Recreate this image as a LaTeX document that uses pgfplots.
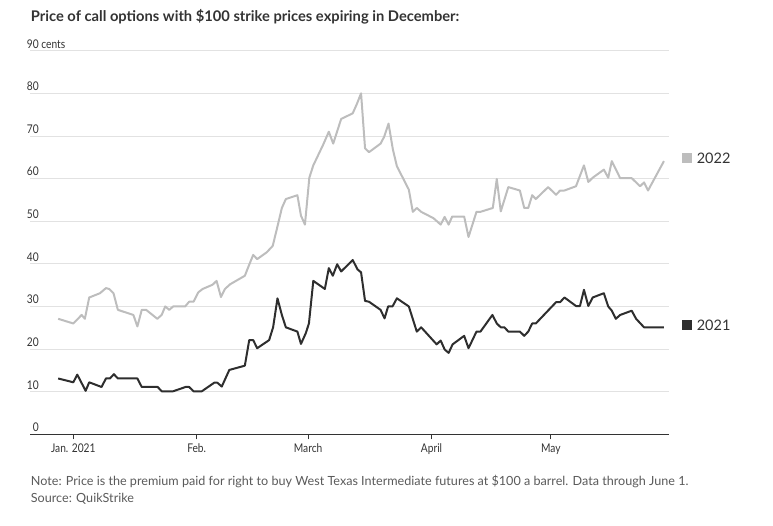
\documentclass[border=0pt]{standalone}
\usepackage{pgfplots}
\pgfplotsset{compat=1.18}
\usepackage{fontspec}
\setmainfont{Lato}
\newfontfamily\narrowfont[FakeStretch=0.85]{Lato}
\definecolor{cA}{HTML}{BDBDBD}
\definecolor{cB}{HTML}{2E2E2E}
\definecolor{gridc}{HTML}{E2E2E2}
\definecolor{txt}{HTML}{333333}
\definecolor{notec}{HTML}{5A5A5A}

\pgfplotstableread{
x y
-3.8 27.1
0 26.0
2.1 28.0
2.9 27.1
4.0 32.1
6.7 33.1
8.2 34.3
9.0 34.1
10.1 33.1
11.2 29.2
15.1 28.0
16.1 25.3
17.2 29.2
18.3 29.2
21.1 27.1
22.2 28.0
23.1 30.0
24.1 29.2
25.1 30.0
28.1 30.0
29.1 31.1
30.2 31.1
31.4 33.3
32.5 34.1
35.0 35.1
36.0 36.0
37.1 32.2
38.1 34.1
39.4 35.2
43.1 37.2
44.2 39.8
45.2 42.1
46.2 41.1
48.6 42.7
50.1 44.2
51.1 48.0
52.4 53.1
53.4 55.2
56.3 56.1
57.2 51.3
58.2 49.2
59.3 60.2
60.3 63.1
62.8 68.0
64.2 71.0
65.3 68.2
67.3 74.0
70.2 75.3
71.2 77.4
72.3 80.0
73.3 67.1
74.3 66.2
77.2 68.2
78.1 69.8
79.2 72.9
80.3 66.8
81.3 62.9
84.3 57.4
85.3 52.2
86.3 53.1
87.4 52.2
90.5 50.7
92.3 49.2
93.3 51.0
94.3 49.2
95.2 51.1
98.2 51.1
99.3 46.3
101.3 52.2
102.3 52.2
105.4 53.1
106.4 59.9
107.4 52.3
109.3 58.0
112.2 57.2
113.3 53.1
114.3 53.1
115.3 56.1
116.2 55.2
119.3 58.0
121.3 56.2
122.3 57.2
123.4 57.2
126.3 58.2
128.3 63.1
129.4 59.2
130.5 60.2
133.3 62.1
134.4 60.2
135.3 64.1
137.4 60.1
140.3 60.1
142.4 58.2
143.4 59.1
144.4 57.2
148.4 64.1
}\dataA

\pgfplotstableread{
x y
-3.8 13.1
0 12.2
1.0 14.0
3.1 10.2
4.0 12.2
7.1 11.1
8.2 13.1
9.2 13.1
10.2 14.1
11.2 13.1
16.1 13.1
17.2 11.1
21.2 11.1
22.2 10.1
25.1 10.1
28.2 11.1
29.1 11.1
30.2 10.1
32.3 10.1
35.4 12.1
36.2 12.1
37.3 11.2
39.2 15.1
43.1 16.1
44.2 22.1
45.2 22.1
46.2 20.2
49.2 22.1
50.2 25.1
51.3 31.9
52.4 28.0
53.4 25.1
56.3 24.1
57.2 21.2
58.4 23.7
59.2 26.0
60.3 36.0
63.2 34.1
64.2 39.0
65.2 37.2
66.3 39.9
67.3 38.2
70.2 40.9
71.4 38.7
72.3 38.0
73.3 31.3
74.3 31.1
77.2 29.2
78.2 27.2
79.1 30.0
80.2 30.0
81.3 31.9
84.3 30.0
86.3 24.1
87.4 25.1
91.3 21.1
92.3 22.0
93.3 19.9
94.3 19.1
95.3 21.1
98.2 23.1
99.3 20.2
101.3 24.1
102.3 24.1
105.3 28.0
106.4 26.0
107.4 25.1
108.3 25.1
109.3 24.1
112.2 24.1
113.3 23.1
114.3 24.1
115.3 26.0
116.2 26.0
121.3 31.0
122.3 31.0
123.4 32.1
126.3 30.1
127.3 30.1
128.3 33.9
129.4 30.1
130.5 32.1
133.3 33.1
134.4 30.0
135.3 29.0
136.3 27.1
137.4 28.0
140.3 29.0
141.4 27.1
143.4 25.1
148.4 25.1
}\dataB

\begin{document}
\begin{tikzpicture}
\path[use as bounding box] (0,0) rectangle (773pt,525pt);
\node[anchor=west, inner sep=0pt, text=txt] at (30.7pt,508.3pt) {\fontsize{14.7pt}{17pt}\selectfont\bfseries Price of call options with \$100 strike prices expiring in December:};
\node[anchor=west, inner sep=0pt, text=notec] at (30.7pt,43.3pt) {\fontsize{12.6pt}{15pt}\selectfont Note: Price is the premium paid for right to buy West Texas Intermediate futures at \$100 a barrel. Data through June 1.};
\node[anchor=west, inner sep=0pt, text=notec] at (30.7pt,26pt) {\fontsize{12.6pt}{15pt}\selectfont Source: QuikStrike};
\begin{axis}[
  at={(30pt,90.7pt)}, anchor=south west,
  scale only axis, width=639pt, height=383.6pt,
  xmin=-10.88, xmax=149.67, ymin=0, ymax=90,
  axis x line*=bottom, axis y line*=left,
  axis line style={-},
  x axis line style={draw=txt, line width=0.9pt},
  y axis line style={draw=none},
  xtick={0,31,59,90,120},
  xticklabels={Jan. 2021,Feb.,March,April,May},
  tick align=outside,
  major tick length=5pt,
  xtick style={draw=txt, line width=0.9pt},
  ytick style={draw=none},
  ytick={0,10,...,80},
  extra y ticks={90},
  extra y tick labels={90 cents},
  extra y tick style={grid=major, yticklabel style={anchor=south west, xshift=-12.3pt}},
  ymajorgrids,
  major grid style={draw=gridc, line width=0.9pt},
  /pgf/number format/assume math mode=true,
  tick label style={font=\fontsize{12pt}{14pt}\selectfont\narrowfont, text=txt},
  yticklabel style={anchor=south east, inner sep=0pt, xshift=14pt, yshift=2.3pt},
  xticklabel style={inner sep=0pt, yshift=-4pt},
  clip=false,
]
\addplot[cA, line width=2pt, line join=round] table[x=x,y=y] {\dataA};
\addplot[cB, line width=2pt, line join=round] table[x=x,y=y] {\dataB};
\node[fill=cA, minimum size=9.5pt, inner sep=0pt] at (axis cs:154.2,64.8) {};
\node[anchor=west, inner sep=0pt, text=txt, font=\fontsize{14.5pt}{16pt}\selectfont] at (axis cs:156.6,64.8) {2022};
\node[fill=cB, minimum size=9.5pt, inner sep=0pt] at (axis cs:154.2,25.65) {};
\node[anchor=west, inner sep=0pt, text=txt, font=\fontsize{14.5pt}{16pt}\selectfont] at (axis cs:156.6,25.65) {2021};
\end{axis}
\end{tikzpicture}
\end{document}
